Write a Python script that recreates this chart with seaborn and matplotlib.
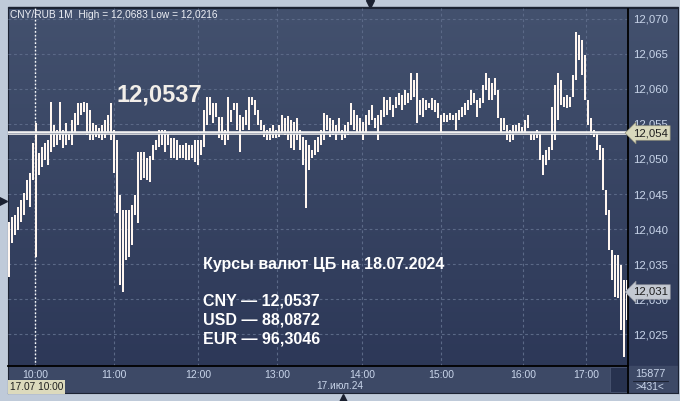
import numpy as np
import matplotlib
matplotlib.use('Agg')
import matplotlib.pyplot as plt
import seaborn as sns
from matplotlib.colors import LinearSegmentedColormap
from matplotlib.patches import Rectangle
from matplotlib.lines import Line2D

# 1-минутные свечи CNY/RUB, 17.07.2024 (максимумы / минимумы)
HIGHS = [
    12.0410, 12.0417, 12.0420, 12.0431, 12.0441, 12.0451, 12.0470, 12.0480, 12.0523, 12.0551,
    12.0509, 12.0517, 12.0523, 12.0527, 12.0581, 12.0549, 12.0541, 12.0581, 12.0541, 12.0551,
    12.0539, 12.0556, 12.0566, 12.0580, 12.0580, 12.0581, 12.0580, 12.0570, 12.0551, 12.0549,
    12.0544, 12.0549, 12.0556, 12.0563, 12.0580, 12.0541, 12.0527, 12.0449, 12.0427, 12.0427,
    12.0427, 12.0434, 12.0449, 12.0510, 12.0510, 12.0510, 12.0501, 12.0504, 12.0520, 12.0527,
    12.0541, 12.0541, 12.0541, 12.0537, 12.0530, 12.0530, 12.0527, 12.0520, 12.0520, 12.0523,
    12.0520, 12.0520, 12.0527, 12.0527, 12.0527, 12.0570, 12.0589, 12.0589, 12.0580, 12.0580,
    12.0560, 12.0560, 12.0541, 12.0589, 12.0570, 12.0580, 12.0580, 12.0563, 12.0560, 12.0570,
    12.0589, 12.0589, 12.0584, 12.0570, 12.0556, 12.0549, 12.0541, 12.0544, 12.0549, 12.0541,
    12.0549, 12.0563, 12.0559, 12.0561, 12.0556, 12.0553, 12.0559, 12.0541, 12.0531, 12.0527,
    12.0520, 12.0513, 12.0527, 12.0531, 12.0541, 12.0566, 12.0563, 12.0559, 12.0556, 12.0549,
    12.0559, 12.0541, 12.0549, 12.0553, 12.0580, 12.0570, 12.0563, 12.0559, 12.0553, 12.0563,
    12.0570, 12.0577, 12.0559, 12.0563, 12.0570, 12.0589, 12.0584, 12.0589, 12.0577, 12.0589,
    12.0594, 12.0591, 12.0599, 12.0594, 12.0623, 12.0613, 12.0623, 12.0584, 12.0587, 12.0584,
    12.0580, 12.0587, 12.0584, 12.0580, 12.0563, 12.0566, 12.0563, 12.0566, 12.0563, 12.0566,
    12.0570, 12.0574, 12.0580, 12.0584, 12.0599, 12.0594, 12.0584, 12.0587, 12.0606, 12.0623,
    12.0616, 12.0609, 12.0616, 12.0599, 12.0559, 12.0559, 12.0549, 12.0541, 12.0549, 12.0549,
    12.0551, 12.0546, 12.0556, 12.0563, 12.0539, 12.0539, 12.0541, 12.0539, 12.0506, 12.0513,
    12.0517, 12.0574, 12.0606, 12.0623, 12.0613, 12.0589, 12.0591, 12.0589, 12.0620, 12.0681,
    12.0677, 12.0670, 12.0649, 12.0584, 12.0559, 12.0541, 12.0539, 12.0520, 12.0516, 12.0456,
    12.0427, 12.0370, 12.0363, 12.0363, 12.0349, 12.0327, 12.0327,
]
LOWS = [
    12.0331, 12.0380, 12.0391, 12.0399, 12.0410, 12.0420, 12.0441, 12.0431, 12.0470, 12.0360,
    12.0477, 12.0489, 12.0499, 12.0491, 12.0510, 12.0517, 12.0520, 12.0527, 12.0516, 12.0520,
    12.0527, 12.0520, 12.0537, 12.0549, 12.0563, 12.0567, 12.0534, 12.0527, 12.0527, 12.0531,
    12.0530, 12.0527, 12.0530, 12.0539, 12.0527, 12.0480, 12.0423, 12.0320, 12.0310, 12.0356,
    12.0360, 12.0377, 12.0420, 12.0409, 12.0470, 12.0473, 12.0470, 12.0467, 12.0499, 12.0513,
    12.0517, 12.0520, 12.0510, 12.0520, 12.0501, 12.0501, 12.0499, 12.0501, 12.0501, 12.0499,
    12.0499, 12.0501, 12.0496, 12.0491, 12.0506, 12.0517, 12.0549, 12.0563, 12.0551, 12.0560,
    12.0530, 12.0527, 12.0520, 12.0527, 12.0553, 12.0570, 12.0541, 12.0510, 12.0541, 12.0549,
    12.0541, 12.0577, 12.0563, 12.0549, 12.0541, 12.0531, 12.0527, 12.0527, 12.0530, 12.0530,
    12.0531, 12.0539, 12.0534, 12.0527, 12.0516, 12.0513, 12.0527, 12.0513, 12.0491, 12.0430,
    12.0484, 12.0501, 12.0506, 12.0510, 12.0520, 12.0527, 12.0541, 12.0531, 12.0534, 12.0527,
    12.0539, 12.0527, 12.0530, 12.0534, 12.0549, 12.0541, 12.0539, 12.0537, 12.0527, 12.0537,
    12.0549, 12.0556, 12.0544, 12.0527, 12.0549, 12.0560, 12.0563, 12.0570, 12.0560, 12.0573,
    12.0577, 12.0570, 12.0577, 12.0580, 12.0584, 12.0589, 12.0551, 12.0563, 12.0560, 12.0570,
    12.0573, 12.0570, 12.0567, 12.0559, 12.0537, 12.0553, 12.0553, 12.0556, 12.0556, 12.0541,
    12.0556, 12.0560, 12.0563, 12.0570, 12.0577, 12.0580, 12.0560, 12.0573, 12.0580, 12.0599,
    12.0584, 12.0584, 12.0591, 12.0559, 12.0539, 12.0541, 12.0527, 12.0524, 12.0527, 12.0537,
    12.0539, 12.0537, 12.0537, 12.0544, 12.0527, 12.0527, 12.0530, 12.0499, 12.0477, 12.0491,
    12.0499, 12.0513, 12.0527, 12.0556, 12.0577, 12.0574, 12.0573, 12.0574, 12.0589, 12.0613,
    12.0641, 12.0620, 12.0584, 12.0549, 12.0534, 12.0531, 12.0513, 12.0499, 12.0456, 12.0420,
    12.0370, 12.0327, 12.0303, 12.0301, 12.0256, 12.0217, 12.0270,
]

CB_RATE = 12.0537
LAST_PRICE = 12.031
DAY_HIGH, DAY_LOW = '12,0683', '12,0216'
Y_TICKS = [12.025, 12.030, 12.035, 12.040, 12.045, 12.050, 12.055, 12.060, 12.065, 12.070]
TIME_LABELS = ['10:00', '11:00', '12:00', '13:00', '14:00', '15:00', '16:00', '17:00']
TIME_BARS = [8.67, 35, 63, 89.33, 117.67, 144, 171.33, 192.33]  # номер свечи для метки часа
CB_TITLE = 'Курсы валют ЦБ на 18.07.2024'
CB_CODES = ['CNY', 'USD', 'EUR']
CB_VALUES = ['12,0537', '88,0872', '96,3046']

sns.set_style('dark')
plt.rcParams['font.family'] = ['Liberation Sans', 'DejaVu Sans']

W, H = 680, 401
fig = plt.figure(figsize=(6.8, 4.01), dpi=100, facecolor='#bfcad9')


def fx(px):
    return px / W


def fy(py):
    return 1 - py / H


# фон панели с градиентом
bg = fig.add_axes([fx(8), fy(393), fx(678) - fx(8), fy(8) - fy(393)])
grad = np.linspace(0, 1, 256).reshape(-1, 1)
cmap = LinearSegmentedColormap.from_list('bg', ['#43516e', '#2b3656'])
bg.imshow(grad, aspect='auto', cmap=cmap, extent=[0, 1, 0, 1])
bg.add_patch(Rectangle((0, 0), 1, 27 / 385, transform=bg.transAxes, color='#3d4966'))
bg.add_patch(Rectangle(((610 - 8) / 670, 1 / 385), 17 / 670, 25 / 385,
                       transform=bg.transAxes, fc='#27324f', ec='#4a5672', lw=0.6))
bg.set_xticks([])
bg.set_yticks([])
for s in bg.spines.values():
    s.set_color('#1c2333')
    s.set_linewidth(0.8)

# основной график
ax = fig.add_axes([fx(8), fy(366), fx(628) - fx(8), fy(8) - fy(366)], zorder=2)
ax.set_facecolor('none')
idx = np.arange(len(HIGHS))
ax.vlines(idx, LOWS, HIGHS, color='#fff6f0', lw=1.1, antialiased=False, zorder=3)

ax.axhline(CB_RATE, color='#f2f2f2', lw=2.6, zorder=5)
ax.axhline(CB_RATE, color='#9aa0ae', lw=0.6, zorder=6)
ax.axvline(TIME_BARS[0], color='white', lw=1.0, ls=(0, (1.2, 1.5)), zorder=2)

ax.set_xlim(-1 / 3, 206.33)
ax.set_ylim(12.02043, 12.07157)
ax.set_xticks(TIME_BARS)
ax.set_xticklabels(TIME_LABELS)
ax.yaxis.tick_right()
ax.set_yticks(Y_TICKS)
ax.set_yticklabels([f'{v:.3f}'.replace('.', ',') for v in Y_TICKS])
ax.tick_params(axis='x', length=0, pad=3, labelsize=7.5, colors='#c9d5ea')
ax.tick_params(axis='y', length=0, pad=4, labelsize=8.2, colors='#c9d5ea')
ax.grid(True, color='#5b6987', lw=0.8, ls=(0, (2.5, 2.5)))
for side in ['top', 'left']:
    ax.spines[side].set_visible(False)
ax.spines['bottom'].set_color('black')
ax.spines['bottom'].set_linewidth(1.3)
ax.spines['right'].set_visible(False)
fig.add_artist(Line2D([fx(628), fx(628)], [fy(8), fy(393)], color='black', lw=1.3,
                      transform=fig.transFigure, zorder=5))

# подписи
fig.text(fx(10), fy(15), f'CNY/RUB 1M  High = {DAY_HIGH} Low = {DAY_LOW}',
         fontsize=7.3, color='#eef0f6', va='center', zorder=6)
fig.text(fx(117), fy(95), f'{CB_RATE:.4f}'.replace('.', ','), fontsize=17,
         weight='bold', color='#f2eee9', va='center', zorder=6)
fig.text(fx(203), fy(265), CB_TITLE, fontsize=11.5, weight='bold',
         color='white', va='center', zorder=6)
for k, (code, val) in enumerate(zip(CB_CODES, CB_VALUES)):
    fig.text(fx(203), fy(301 + 19 * k), f'{code} \u2014 {val}', fontsize=11.5,
             weight='bold', color='white', va='center', zorder=6)

fig.text(fx(633), fy(133), f'{CB_RATE:.3f}'.replace('.', ','), fontsize=8.2,
         color='#1e1e1e', va='center', zorder=7,
         bbox=dict(boxstyle='larrow,pad=0.2', fc='#d9d9bd', ec='#8a8a78', lw=0.5))
fig.text(fx(633), fy(292), f'{LAST_PRICE:.3f}'.replace('.', ','), fontsize=8.2,
         color='#1e1e1e', va='center', zorder=7,
         bbox=dict(boxstyle='larrow,pad=0.2', fc='#c4c9d2', ec='#8a8e98', lw=0.5))

fig.text(fx(10), fy(387), '17.07 10:00', fontsize=7.3, color='#202020', va='center',
         zorder=7, bbox=dict(boxstyle='square,pad=0.15', fc='#dcdabd', ec='none'))
fig.text(fx(340), fy(386), '17.июл.24', fontsize=7.3, color='#c9d5ea',
         ha='center', va='center', zorder=7)
fig.text(fx(650), fy(374), '15877', fontsize=7.8, color='#c9d5ea',
         ha='center', va='center', zorder=7)
fig.add_artist(Line2D([fx(633), fx(668)], [fy(381), fy(381)], color='#1c2333', lw=0.8,
                      transform=fig.transFigure, zorder=7))
fig.text(fx(650), fy(387), '>431<', fontsize=7.3, color='#c9d5ea',
         ha='center', va='center', zorder=7)

# стрелки рамки
for (px, py, m) in [(370, 3.5, 'v'), (343, 397.5, '^'), (3, 201, '>')]:
    fig.add_artist(Line2D([fx(px)], [fy(py)], marker=m, ms=6, color='#1a2030',
                          transform=fig.transFigure, zorder=8))
fig.add_artist(Line2D([fx(8), fx(678)], [fy(7), fy(7)], color='#1c2333', lw=1,
                      transform=fig.transFigure, zorder=8))

fig.savefig('out.png', dpi=100, facecolor=fig.get_facecolor())
